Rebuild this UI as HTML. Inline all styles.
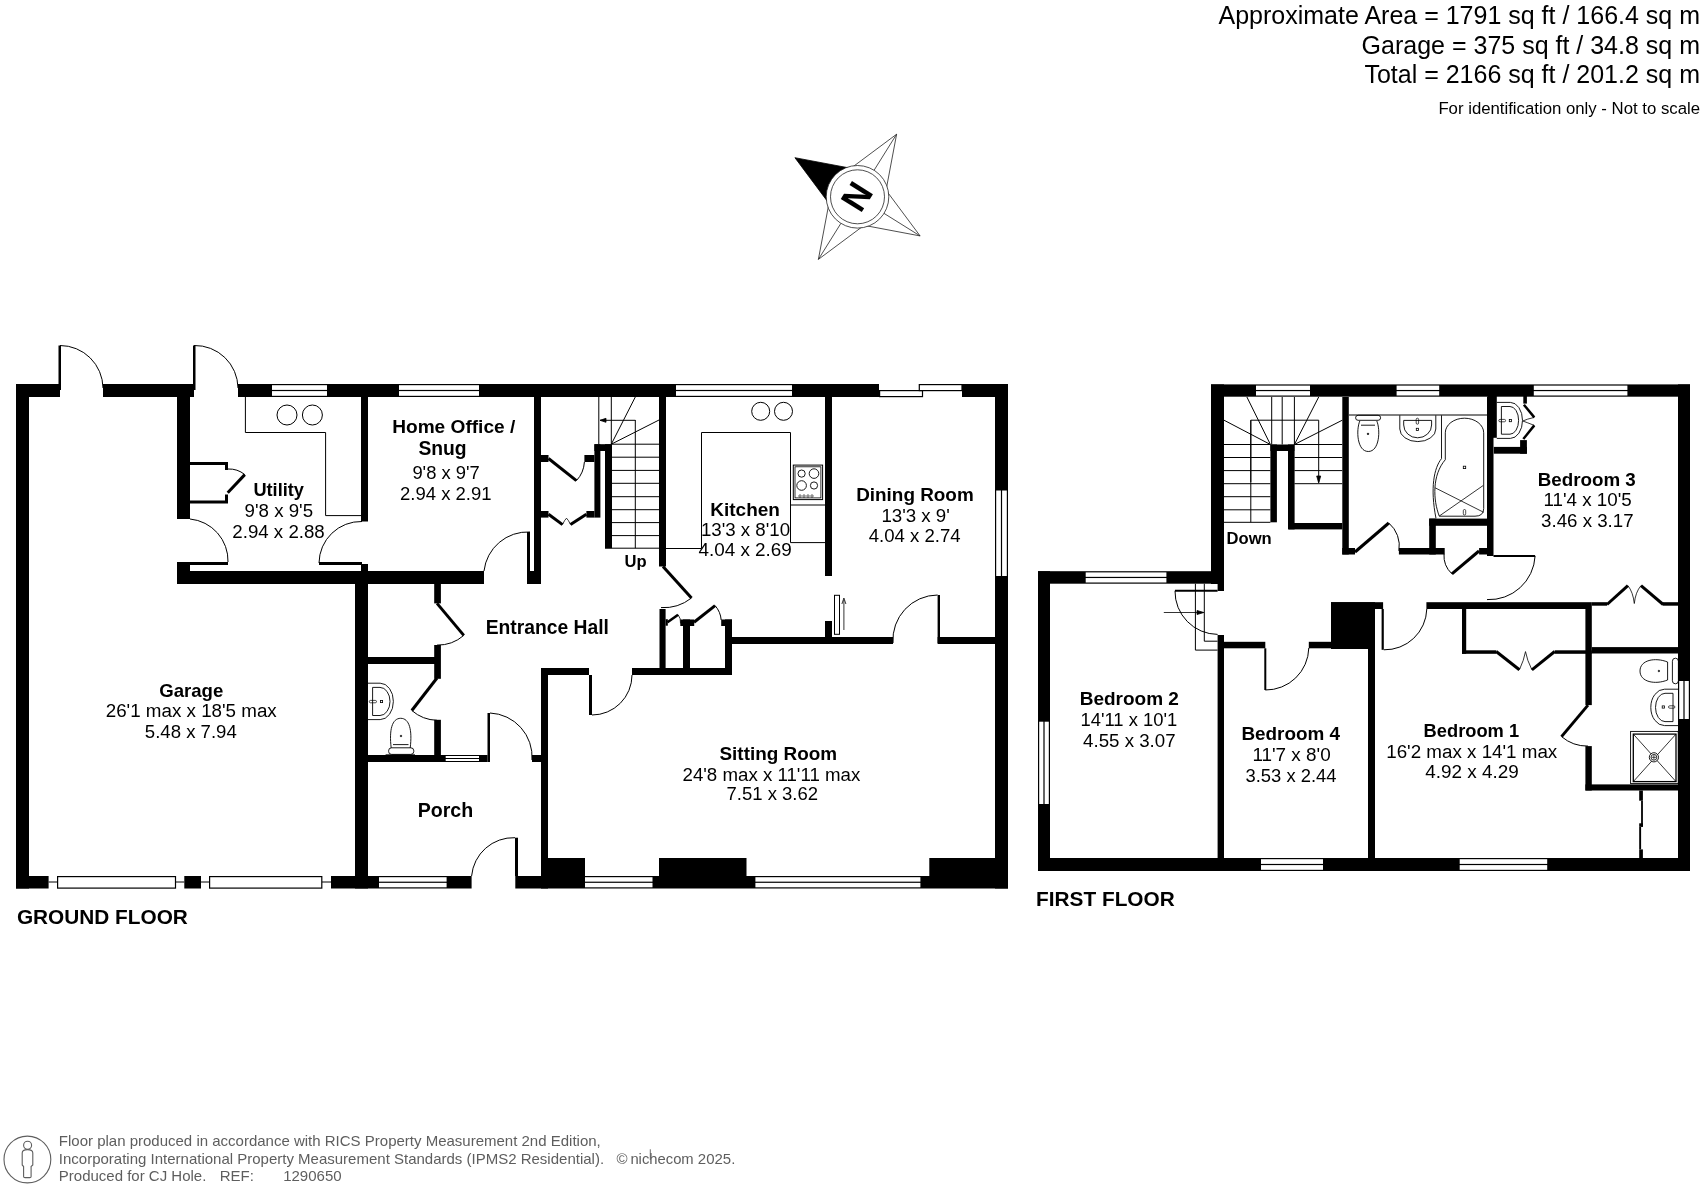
<!DOCTYPE html>
<html><head><meta charset="utf-8"><style>
html,body{margin:0;padding:0;background:#fff;overflow:hidden;}
svg{display:block;filter:grayscale(1);}
text{font-family:"Liberation Sans",sans-serif;}
</style></head><body>
<svg width="1704" height="1186" viewBox="0 0 1704 1186">
<rect x="16" y="384" width="44" height="13" fill="#000"/>
<rect x="103" y="384" width="91" height="13" fill="#000"/>
<rect x="238" y="384" width="641" height="13" fill="#000"/>
<rect x="962" y="384" width="46" height="13" fill="#000"/>
<rect x="272" y="385.2" width="55" height="4.7" fill="#fff"/>
<rect x="272" y="391.1" width="55" height="4.7" fill="#fff"/>
<rect x="399" y="385.2" width="80" height="4.7" fill="#fff"/>
<rect x="399" y="391.1" width="80" height="4.7" fill="#fff"/>
<rect x="676" y="385.2" width="116" height="4.7" fill="#fff"/>
<rect x="676" y="391.1" width="116" height="4.7" fill="#fff"/>
<rect x="879.6" y="390.6" width="42.9" height="6" fill="#fff" stroke="#000" stroke-width="1.2"/>
<rect x="919.3" y="384.6" width="42.7" height="6" fill="#fff" stroke="#000" stroke-width="1.2"/>
<rect x="16" y="384" width="13" height="504.5" fill="#000"/>
<rect x="995" y="384" width="13" height="504.5" fill="#000"/>
<rect x="996.2" y="490.5" width="4.7" height="85.5" fill="#fff"/>
<rect x="1002.1" y="490.5" width="4.7" height="85.5" fill="#fff"/>
<rect x="16" y="876" width="32.6" height="12.5" fill="#000"/>
<line x1="48.6" y1="882" x2="57" y2="882" stroke="#000" stroke-width="1"/>
<line x1="175.5" y1="882" x2="184.3" y2="882" stroke="#000" stroke-width="1"/>
<line x1="201" y1="882" x2="209.5" y2="882" stroke="#000" stroke-width="1"/>
<line x1="321.8" y1="882" x2="331" y2="882" stroke="#000" stroke-width="1"/>
<rect x="57.6" y="876.6" width="117.9" height="11.5" fill="#fff" stroke="#000" stroke-width="1.2"/>
<rect x="209.6" y="876.6" width="112.2" height="11.5" fill="#fff" stroke="#000" stroke-width="1.2"/>
<rect x="184.3" y="876" width="16.7" height="12.5" fill="#000"/>
<rect x="331" y="876" width="140.6" height="12.5" fill="#000"/>
<rect x="379" y="877.2" width="67.6" height="4.45" fill="#fff"/>
<rect x="379" y="882.85" width="67.6" height="4.45" fill="#fff"/>
<rect x="515.3" y="876" width="492.7" height="12.5" fill="#000"/>
<rect x="585" y="877.2" width="67.5" height="4.45" fill="#fff"/>
<rect x="585" y="882.85" width="67.5" height="4.45" fill="#fff"/>
<rect x="755.4" y="877.2" width="165" height="4.45" fill="#fff"/>
<rect x="755.4" y="882.85" width="165" height="4.45" fill="#fff"/>
<rect x="541" y="858" width="44" height="18" fill="#000"/>
<rect x="659" y="858" width="87.5" height="18" fill="#000"/>
<rect x="929.3" y="858" width="66.2" height="18" fill="#000"/>
<rect x="177" y="397" width="13" height="122" fill="#000"/>
<rect x="177" y="562" width="13" height="22" fill="#000"/>
<rect x="177" y="571" width="307" height="13" fill="#000"/>
<rect x="355" y="584" width="13" height="304.5" fill="#000"/>
<rect x="361" y="397" width="7" height="124.5" fill="#000"/>
<rect x="361" y="564" width="7" height="7" fill="#000"/>
<rect x="534" y="397" width="7" height="187" fill="#000"/>
<rect x="527" y="571" width="14" height="13" fill="#000"/>
<rect x="594.4" y="444.2" width="6" height="73.4" fill="#000"/>
<rect x="594.4" y="444.2" width="16.9" height="6.8" fill="#000"/>
<rect x="605" y="444.2" width="7" height="104" fill="#000"/>
<rect x="541" y="455" width="7.5" height="7" fill="#000"/>
<rect x="584.4" y="455" width="10" height="7" fill="#000"/>
<rect x="541" y="511" width="7.5" height="6.6" fill="#000"/>
<rect x="586.4" y="511" width="8" height="6.6" fill="#000"/>
<rect x="659" y="397" width="7" height="169.5" fill="#000"/>
<rect x="825" y="397" width="7" height="179" fill="#000"/>
<rect x="825" y="621" width="7" height="23" fill="#000"/>
<rect x="732" y="637" width="161" height="7" fill="#000"/>
<rect x="937.6" y="637" width="58.4" height="7" fill="#000"/>
<rect x="659.5" y="609" width="6.1" height="65.3" fill="#000"/>
<rect x="683" y="619.5" width="7" height="54.8" fill="#000"/>
<rect x="680.3" y="619.5" width="13.9" height="6.5" fill="#000"/>
<rect x="725" y="619.5" width="7" height="54.8" fill="#000"/>
<rect x="721.2" y="619.5" width="10.8" height="6.5" fill="#000"/>
<rect x="541" y="668" width="48" height="7" fill="#000"/>
<rect x="632" y="668" width="100" height="7" fill="#000"/>
<rect x="434.2" y="584" width="6.7" height="19.4" fill="#000"/>
<rect x="434.2" y="645" width="6.7" height="33.8" fill="#000"/>
<rect x="434.2" y="719.8" width="6.7" height="35.4" fill="#000"/>
<rect x="368" y="657" width="69" height="7" fill="#000"/>
<rect x="368" y="755" width="119.5" height="7" fill="#000"/>
<rect x="445.7" y="756" width="33.3" height="2" fill="#fff"/>
<rect x="445.7" y="759" width="33.3" height="2" fill="#fff"/>
<rect x="532" y="755" width="9" height="7" fill="#000"/>
<rect x="541" y="668" width="7" height="220.5" fill="#000"/>
<line x1="611" y1="444.2" x2="659" y2="444.2" stroke="#000" stroke-width="1"/>
<line x1="611" y1="457.2" x2="659" y2="457.2" stroke="#000" stroke-width="1"/>
<line x1="611" y1="470.4" x2="659" y2="470.4" stroke="#000" stroke-width="1"/>
<line x1="611" y1="483.3" x2="659" y2="483.3" stroke="#000" stroke-width="1"/>
<line x1="611" y1="496.7" x2="659" y2="496.7" stroke="#000" stroke-width="1"/>
<line x1="611" y1="509.7" x2="659" y2="509.7" stroke="#000" stroke-width="1"/>
<line x1="611" y1="522.6" x2="659" y2="522.6" stroke="#000" stroke-width="1"/>
<line x1="611" y1="535.6" x2="659" y2="535.6" stroke="#000" stroke-width="1"/>
<line x1="605" y1="548.2" x2="659" y2="548.2" stroke="#000" stroke-width="1"/>
<line x1="635.3" y1="420" x2="635.3" y2="548.2" stroke="#000" stroke-width="1"/>
<line x1="598.8" y1="397" x2="598.8" y2="444.2" stroke="#000" stroke-width="1"/>
<line x1="611.3" y1="397" x2="611.3" y2="444.2" stroke="#000" stroke-width="1"/>
<line x1="600" y1="420.3" x2="635.3" y2="420.3" stroke="#000" stroke-width="1"/>
<path d="M600 420.3 L606 418.3 L606 422.3 Z" fill="#000" stroke="#000" stroke-width="0.8" />
<line x1="611.3" y1="444.2" x2="635.3" y2="397" stroke="#000" stroke-width="1"/>
<line x1="611.3" y1="444.2" x2="659" y2="420" stroke="#000" stroke-width="1"/>
<rect x="58.5" y="345.5" width="2.5" height="44.5" fill="#000"/>
<path d="M60 345.5 A43 43 0 0 1 103 388" fill="none" stroke="#000" stroke-width="1" />
<rect x="193" y="345.5" width="2.5" height="44.5" fill="#000"/>
<path d="M194 345.5 A43 43 0 0 1 238 388" fill="none" stroke="#000" stroke-width="1" />
<rect x="183" y="562" width="45" height="3" fill="#000"/>
<path d="M228 562 A42 42 0 0 0 190 519" fill="none" stroke="#000" stroke-width="1" />
<rect x="319" y="562" width="43" height="3" fill="#000"/>
<path d="M319 563 A42 42 0 0 1 362 521.5" fill="none" stroke="#000" stroke-width="1" />
<rect x="527" y="532" width="3" height="39" fill="#000"/>
<path d="M530 532 A44 44 0 0 0 484 571" fill="none" stroke="#000" stroke-width="1" />
<rect x="589" y="675" width="3" height="40" fill="#000"/>
<path d="M592 715 A40 40 0 0 0 632 675" fill="none" stroke="#000" stroke-width="1" />
<rect x="937.6" y="595" width="2.4" height="48" fill="#000"/>
<path d="M937.6 595 A45 45 0 0 0 893 643" fill="none" stroke="#000" stroke-width="1" />
<rect x="515" y="837.7" width="3" height="38.3" fill="#000"/>
<path d="M515 837.7 A42 42 0 0 0 471.6 876" fill="none" stroke="#000" stroke-width="1" />
<rect x="487.5" y="713" width="2.5" height="49" fill="#000"/>
<path d="M490 713 A44 44 0 0 1 532 760" fill="none" stroke="#000" stroke-width="1" />
<line x1="663" y1="566.5" x2="691.5" y2="598" stroke="#000" stroke-width="3"/>
<path d="M691.5 598 A45 45 0 0 1 661 607.6" fill="none" stroke="#000" stroke-width="1" />
<line x1="548.5" y1="458.5" x2="576.4" y2="480.7" stroke="#000" stroke-width="3"/>
<path d="M576.4 480.7 A30 30 0 0 0 584.4 462" fill="none" stroke="#000" stroke-width="1" />
<line x1="548.5" y1="514.3" x2="562.5" y2="524.6" stroke="#000" stroke-width="3"/>
<line x1="570.5" y1="524.6" x2="586.4" y2="514.3" stroke="#000" stroke-width="3"/>
<path d="M562.5 524.6 Q564.5 520 566.5 518.2 Q568.5 520 570.5 524.6" fill="none" stroke="#000" stroke-width="0.8" />
<line x1="437" y1="603.4" x2="463.8" y2="635.4" stroke="#000" stroke-width="3"/>
<path d="M463.8 635.4 A40 40 0 0 1 437 645.1" fill="none" stroke="#000" stroke-width="1" />
<line x1="437" y1="678" x2="411.8" y2="710.5" stroke="#000" stroke-width="3"/>
<path d="M411.8 710.5 A40 40 0 0 0 437 720.3" fill="none" stroke="#000" stroke-width="1" />
<rect x="665.6" y="619.2" width="2.2" height="6.5" fill="#000"/>
<line x1="667.5" y1="622.3" x2="678.1" y2="614.7" stroke="#000" stroke-width="2.6"/>
<path d="M678.1 614.7 A12 12 0 0 1 680.5 623.4" fill="none" stroke="#000" stroke-width="0.8" />
<line x1="694" y1="622.3" x2="715.1" y2="605.6" stroke="#000" stroke-width="3"/>
<path d="M715.1 605.6 A25 25 0 0 1 721.2 620" fill="none" stroke="#000" stroke-width="1" />
<rect x="834.5" y="595.3" width="5" height="39" fill="#fff" stroke="#000" stroke-width="1"/>
<line x1="843.9" y1="600" x2="843.9" y2="630" stroke="#000" stroke-width="0.8"/>
<path d="M841.9 604 L843.9 598 L845.9 604" fill="none" stroke="#000" stroke-width="0.8" />
<path d="M245.4 397 V432.5 H325.6 V515.6 H361" fill="none" stroke="#000" stroke-width="1" />
<circle cx="287" cy="415" r="10" fill="none" stroke="#000" stroke-width="1"/>
<circle cx="312.4" cy="415" r="10" fill="none" stroke="#000" stroke-width="1"/>
<path d="M190 463.5 H226.5 V470" fill="none" stroke="#000" stroke-width="3" />
<path d="M190 502 H226.5 V494.5" fill="none" stroke="#000" stroke-width="3" />
<line x1="227.7" y1="492.8" x2="244.8" y2="474.6" stroke="#000" stroke-width="3"/>
<path d="M244.8 474.6 A25 25 0 0 0 228 469" fill="none" stroke="#000" stroke-width="1" />
<circle cx="760.7" cy="411.3" r="9" fill="none" stroke="#000" stroke-width="1"/>
<circle cx="783.5" cy="411.3" r="9" fill="none" stroke="#000" stroke-width="1"/>
<path d="M665.6 548.5 H701.5 V432.5 H790.5 V542.6 H825" fill="none" stroke="#000" stroke-width="1" />
<line x1="790.5" y1="505" x2="825" y2="505" stroke="#000" stroke-width="1"/>
<rect x="793.3" y="465.1" width="29.3" height="34.5" fill="none" stroke="#000" stroke-width="1"/>
<rect x="795" y="466.8" width="25.9" height="31.1" fill="none" stroke="#000" stroke-width="0.8"/>
<circle cx="801.6" cy="473.6" r="3.6" fill="none" stroke="#000" stroke-width="0.9"/>
<circle cx="814" cy="473.6" r="4.8" fill="none" stroke="#000" stroke-width="0.9"/>
<circle cx="801.6" cy="485.5" r="4.8" fill="none" stroke="#000" stroke-width="0.9"/>
<circle cx="814" cy="485.5" r="3.6" fill="none" stroke="#000" stroke-width="0.9"/>
<circle cx="800" cy="496" r="1.2" fill="none" stroke="#000" stroke-width="0.6"/>
<circle cx="804" cy="496" r="1.2" fill="none" stroke="#000" stroke-width="0.6"/>
<circle cx="808" cy="496" r="1.2" fill="none" stroke="#000" stroke-width="0.6"/>
<circle cx="812" cy="496" r="1.2" fill="none" stroke="#000" stroke-width="0.6"/>
<rect x="1211" y="384.4" width="479" height="12.3" fill="#000"/>
<rect x="1256" y="385.6" width="54" height="4.35" fill="#fff"/>
<rect x="1256" y="391.15" width="54" height="4.35" fill="#fff"/>
<rect x="1396.6" y="385.6" width="42.6" height="4.35" fill="#fff"/>
<rect x="1396.6" y="391.15" width="42.6" height="4.35" fill="#fff"/>
<rect x="1533.8" y="385.6" width="93.6" height="4.35" fill="#fff"/>
<rect x="1533.8" y="391.15" width="93.6" height="4.35" fill="#fff"/>
<rect x="1211" y="384.4" width="13" height="199.6" fill="#000"/>
<rect x="1217.6" y="584" width="6.4" height="7" fill="#000"/>
<rect x="1038" y="571.2" width="186" height="12.5" fill="#000"/>
<rect x="1085.7" y="572.4" width="80.7" height="4.45" fill="#fff"/>
<rect x="1085.7" y="578.05" width="80.7" height="4.45" fill="#fff"/>
<rect x="1038" y="571.2" width="12" height="299.8" fill="#000"/>
<rect x="1039.2" y="721.7" width="4.2" height="82.3" fill="#fff"/>
<rect x="1044.6" y="721.7" width="4.2" height="82.3" fill="#fff"/>
<rect x="1038" y="858" width="652" height="13" fill="#000"/>
<rect x="1261" y="859.2" width="62" height="4.7" fill="#fff"/>
<rect x="1261" y="865.1" width="62" height="4.7" fill="#fff"/>
<rect x="1459.7" y="859.2" width="87.5" height="4.7" fill="#fff"/>
<rect x="1459.7" y="865.1" width="87.5" height="4.7" fill="#fff"/>
<rect x="1678" y="384.4" width="12" height="486.6" fill="#000"/>
<rect x="1679.2" y="681" width="4.2" height="38" fill="#fff"/>
<rect x="1684.6" y="681" width="4.2" height="38" fill="#fff"/>
<rect x="1217.6" y="635" width="6.4" height="223" fill="#000"/>
<rect x="1224" y="641.8" width="41.3" height="6.5" fill="#000"/>
<rect x="1308.8" y="641.8" width="22.2" height="6.5" fill="#000"/>
<rect x="1331" y="602.2" width="44" height="46.8" fill="#000"/>
<rect x="1331" y="602.2" width="52.1" height="6.8" fill="#000"/>
<rect x="1368" y="649" width="7" height="209" fill="#000"/>
<rect x="1342.3" y="397" width="6.5" height="157.5" fill="#000"/>
<rect x="1342.2" y="548" width="12.8" height="6.5" fill="#000"/>
<rect x="1288.7" y="523" width="53.6" height="6.4" fill="#000"/>
<rect x="1398.9" y="548" width="45.8" height="6.5" fill="#000"/>
<rect x="1429.2" y="518.6" width="6.6" height="35.9" fill="#000"/>
<rect x="1429.2" y="518.6" width="57.8" height="7.2" fill="#000"/>
<rect x="1479.1" y="548" width="7.9" height="6.5" fill="#000"/>
<rect x="1487" y="397" width="6.5" height="159" fill="#000"/>
<rect x="1426.4" y="602.2" width="165.4" height="6.8" fill="#000"/>
<rect x="1591.8" y="602.2" width="15.2" height="3.5" fill="#000"/>
<rect x="1663" y="602.2" width="15" height="3.5" fill="#000"/>
<rect x="1462" y="609" width="4.2" height="44.8" fill="#000"/>
<rect x="1462" y="650.3" width="34.3" height="3.5" fill="#000"/>
<rect x="1554.7" y="650.3" width="37.1" height="3.5" fill="#000"/>
<rect x="1585.4" y="609" width="6.4" height="96.1" fill="#000"/>
<rect x="1585.4" y="746.1" width="6.4" height="44.4" fill="#000"/>
<rect x="1591.8" y="647.1" width="86.2" height="6.4" fill="#000"/>
<rect x="1585.4" y="784.4" width="92.6" height="6.1" fill="#000"/>
<rect x="1639.2" y="790.5" width="3.7" height="10.2" fill="#000"/>
<rect x="1641.1" y="800.7" width="1.8" height="26.1" fill="#000"/>
<rect x="1639.2" y="823.3" width="3.7" height="3.5" fill="#000"/>
<rect x="1639.2" y="826.8" width="1.9" height="22.6" fill="#000"/>
<rect x="1639.2" y="849.4" width="3.7" height="8.6" fill="#000"/>
<rect x="1270.4" y="444.5" width="6.5" height="77.8" fill="#000"/>
<rect x="1270.4" y="444.5" width="24" height="6.5" fill="#000"/>
<rect x="1288" y="444.5" width="6.6" height="84.9" fill="#000"/>
<line x1="1224" y1="444.5" x2="1270.4" y2="444.5" stroke="#000" stroke-width="1"/>
<line x1="1224" y1="457.5" x2="1270.4" y2="457.5" stroke="#000" stroke-width="1"/>
<line x1="1224" y1="470.6" x2="1270.4" y2="470.6" stroke="#000" stroke-width="1"/>
<line x1="1224" y1="483.7" x2="1270.4" y2="483.7" stroke="#000" stroke-width="1"/>
<line x1="1224" y1="496.7" x2="1270.4" y2="496.7" stroke="#000" stroke-width="1"/>
<line x1="1224" y1="509.8" x2="1270.4" y2="509.8" stroke="#000" stroke-width="1"/>
<line x1="1224" y1="522.3" x2="1270.4" y2="522.3" stroke="#000" stroke-width="1"/>
<line x1="1250.8" y1="420.2" x2="1250.8" y2="522.3" stroke="#000" stroke-width="1"/>
<line x1="1294.4" y1="444.5" x2="1342.3" y2="444.5" stroke="#000" stroke-width="1"/>
<line x1="1294.4" y1="457.5" x2="1342.3" y2="457.5" stroke="#000" stroke-width="1"/>
<line x1="1294.4" y1="470.6" x2="1342.3" y2="470.6" stroke="#000" stroke-width="1"/>
<line x1="1294.4" y1="483.7" x2="1342.3" y2="483.7" stroke="#000" stroke-width="1"/>
<path d="M1250.8 482 V420.2 H1318.7 V482" fill="none" stroke="#000" stroke-width="1" />
<path d="M1316.7 476 L1318.7 483 L1320.7 476 Z" fill="#000" stroke="#000" stroke-width="0.8" />
<line x1="1270.4" y1="444.5" x2="1224" y2="420.2" stroke="#000" stroke-width="1"/>
<line x1="1270.4" y1="444.5" x2="1246.9" y2="397" stroke="#000" stroke-width="1"/>
<line x1="1271.7" y1="397" x2="1271.7" y2="444.5" stroke="#000" stroke-width="1"/>
<line x1="1282.2" y1="397" x2="1282.2" y2="444.5" stroke="#000" stroke-width="1"/>
<line x1="1294.4" y1="397" x2="1294.4" y2="444.5" stroke="#000" stroke-width="1"/>
<line x1="1294.4" y1="444.5" x2="1318.7" y2="397" stroke="#000" stroke-width="1"/>
<line x1="1294.4" y1="444.5" x2="1342.3" y2="420.2" stroke="#000" stroke-width="1"/>
<line x1="1349" y1="415" x2="1487" y2="415" stroke="#000" stroke-width="1"/>
<line x1="1355" y1="552" x2="1388.8" y2="523" stroke="#000" stroke-width="3"/>
<path d="M1388.8 523 A30 30 0 0 1 1398.9 550.9" fill="none" stroke="#000" stroke-width="1" />
<line x1="1479" y1="551" x2="1451.9" y2="573.8" stroke="#000" stroke-width="3"/>
<path d="M1451.9 573.8 A25 25 0 0 1 1444 553.8" fill="none" stroke="#000" stroke-width="1" />
<rect x="1493.5" y="555" width="41.6" height="2" fill="#000"/>
<path d="M1535.1 556 A46 46 0 0 1 1487 599.6" fill="none" stroke="#000" stroke-width="1" />
<rect x="1381.6" y="609" width="2.2" height="40.8" fill="#000"/>
<path d="M1383.8 649.8 A42 42 0 0 0 1426.8 609" fill="none" stroke="#000" stroke-width="1" />
<rect x="1264.3" y="648.3" width="2" height="41.7" fill="#000"/>
<path d="M1265.3 690 A43 43 0 0 0 1308.8 648" fill="none" stroke="#000" stroke-width="1" />
<line x1="1588" y1="705.1" x2="1561.5" y2="736.6" stroke="#000" stroke-width="3"/>
<path d="M1561.5 736.6 A40 40 0 0 0 1588 746.1" fill="none" stroke="#000" stroke-width="1" />
<line x1="1496.2" y1="651.5" x2="1519.4" y2="669.8" stroke="#000" stroke-width="3"/>
<line x1="1531.9" y1="669.8" x2="1554.7" y2="651.5" stroke="#000" stroke-width="3"/>
<path d="M1519.4 669.8 Q1524 660 1525.5 651.6 Q1527 660 1531.9 669.8" fill="none" stroke="#000" stroke-width="0.8" />
<line x1="1607" y1="604.5" x2="1627.9" y2="585.6" stroke="#000" stroke-width="3"/>
<line x1="1641" y1="585.6" x2="1663.2" y2="604.5" stroke="#000" stroke-width="3"/>
<path d="M1627.9 585.6 Q1633 592 1634.3 603.5 Q1635.5 592 1641 585.6" fill="none" stroke="#000" stroke-width="0.8" />
<path d="M1175 590.8 A43 43 0 0 0 1217.6 634.4" fill="none" stroke="#000" stroke-width="1" />
<line x1="1175" y1="590.8" x2="1217.6" y2="590.8" stroke="#000" stroke-width="2"/>
<path d="M1195.4 583.7 V650.1 H1217.6" fill="none" stroke="#000" stroke-width="1" />
<path d="M1204.3 583.7 V641.2 H1217.6" fill="none" stroke="#000" stroke-width="1" />
<line x1="1163.8" y1="612.5" x2="1203.8" y2="612.5" stroke="#000" stroke-width="0.8"/>
<path d="M1197 610.5 L1203.8 612.5 L1197 614.5 Z" fill="#000" stroke="#000" stroke-width="0.8" />
<path d="M368 683.2 H380.2 A13.2 18.2 0 0 1 380.2 719.6 H368" fill="none" stroke="#000" stroke-width="0.9" />
<path d="M372.6 687.4 H380 A10 14.05 0 0 1 380 715.5 H372.6 Z" fill="none" stroke="#000" stroke-width="0.9" />
<rect x="369.3" y="700.4" width="7.2" height="2.4" rx="1.2" fill="none" stroke="#000" stroke-width="0.7"/>
<rect x="380.4" y="700.4" width="2.2" height="2.2" fill="none" stroke="#000" stroke-width="0.8"/>
<path d="M391.2 748 C389 730 392 718.3 400.7 718.3 C409.4 718.3 412.4 730 410.2 748" fill="none" stroke="#000" stroke-width="0.9" />
<line x1="393" y1="744.6" x2="408.5" y2="744.6" stroke="#000" stroke-width="0.9"/>
<circle cx="401" cy="736" r="0.8" fill="#000" stroke="#000" stroke-width="0.6"/>
<rect x="388.6" y="747.8" width="25.2" height="6.6" rx="3" fill="none" stroke="#000" stroke-width="0.9"/>
<line x1="385.6" y1="754.8" x2="415" y2="754.8" stroke="#000" stroke-width="0.9"/>
<rect x="1355.6" y="415.3" width="25" height="5" rx="2.5" fill="none" stroke="#000" stroke-width="0.9"/>
<path d="M1359.8 421 C1356 430 1357 451.5 1368.3 451.5 C1379.5 451.5 1380.6 430 1376.8 421" fill="none" stroke="#000" stroke-width="0.9" />
<line x1="1361" y1="425.2" x2="1375" y2="425.2" stroke="#000" stroke-width="0.9"/>
<circle cx="1368" cy="433.9" r="0.8" fill="#000" stroke="#000" stroke-width="0.6"/>
<path d="M1399.8 415.3 V429 A18 12.6 0 0 0 1435.8 429 V415.3" fill="none" stroke="#000" stroke-width="0.9" />
<path d="M1403.7 420.4 H1431.6 V425 A13.95 12.8 0 0 1 1403.7 425 Z" fill="none" stroke="#000" stroke-width="0.9" />
<rect x="1416.2" y="418.2" width="2.4" height="6" rx="1.2" fill="none" stroke="#000" stroke-width="0.7"/>
<rect x="1416.3" y="428.3" width="2.2" height="2.2" fill="none" stroke="#000" stroke-width="0.8"/>
<path d="M1441.5 415.3 V458.6 C1434 468 1430 488 1436 518.4" fill="none" stroke="#000" stroke-width="0.9" />
<path d="M1445.3 432.8 A19.2 14.6 0 0 1 1483.7 432.8 V508.5 Q1483.7 516.2 1475 516.2 H1439.3 C1433 500 1432 475 1445.3 459.7 Z" fill="none" stroke="#000" stroke-width="0.9" />
<line x1="1434.9" y1="487.7" x2="1483.7" y2="512.3" stroke="#000" stroke-width="0.8"/>
<line x1="1439.3" y1="516" x2="1483.2" y2="485.5" stroke="#000" stroke-width="0.8"/>
<rect x="1463.3" y="466.2" width="2.4" height="2.4" fill="none" stroke="#000" stroke-width="0.8"/>
<rect x="1463.3" y="509.5" width="2.4" height="5.5" rx="1.2" fill="none" stroke="#000" stroke-width="0.7"/>
<rect x="1487.4" y="396" width="9.4" height="41.8" fill="#000"/>
<rect x="1493.8" y="446.9" width="33.1" height="6.8" fill="#000"/>
<rect x="1520.1" y="440.1" width="6.8" height="13.6" fill="#000"/>
<rect x="1523.3" y="396" width="3.6" height="7.6" fill="#000"/>
<line x1="1523.9" y1="404.7" x2="1534.3" y2="417.4" stroke="#000" stroke-width="2.5"/>
<line x1="1534.3" y1="425.4" x2="1523.3" y2="439" stroke="#000" stroke-width="2.5"/>
<path d="M1534.3 417.4 Q1527 419 1522.8 421 Q1527 422.5 1534.3 425.4" fill="none" stroke="#000" stroke-width="0.8" />
<path d="M1496.8 402.4 H1510.4 A12.1 18 0 0 1 1510.4 438.4 H1496.8" fill="none" stroke="#000" stroke-width="0.9" />
<path d="M1501.4 406.5 H1510 A8.6 13.85 0 0 1 1510 434.2 H1501.4 Z" fill="none" stroke="#000" stroke-width="0.9" />
<rect x="1498.8" y="419.4" width="6.8" height="2.4" rx="1.2" fill="none" stroke="#000" stroke-width="0.7"/>
<rect x="1509.3" y="419.5" width="2.2" height="2.2" fill="none" stroke="#000" stroke-width="0.8"/>
<rect x="1672.4" y="658.2" width="6" height="25.6" rx="3" fill="none" stroke="#000" stroke-width="0.9"/>
<path d="M1667.6 662 C1655 657 1640 660 1640 671 C1640 682 1655 685 1667.6 680 Z" fill="none" stroke="#000" stroke-width="0.9" />
<circle cx="1658.9" cy="671" r="0.8" fill="#000" stroke="#000" stroke-width="0.6"/>
<path d="M1678.2 689.2 H1664.5 A13.7 18.2 0 0 0 1664.5 725.6 H1678.2" fill="none" stroke="#000" stroke-width="0.9" />
<path d="M1673 693.3 H1665 A9.5 14.15 0 0 0 1665 721.6 H1673 Z" fill="none" stroke="#000" stroke-width="0.9" />
<rect x="1662.2" y="705.9" width="2.2" height="2.2" fill="none" stroke="#000" stroke-width="0.8"/>
<rect x="1668.5" y="705.8" width="6.4" height="2.4" rx="1.2" fill="none" stroke="#000" stroke-width="0.7"/>
<rect x="1630.6" y="731.4" width="47.6" height="52.2" fill="none" stroke="#000" stroke-width="0.9"/>
<rect x="1633.3" y="734.1" width="42.7" height="47.5" fill="none" stroke="#000" stroke-width="1.3"/>
<line x1="1633.3" y1="734.1" x2="1676" y2="781.6" stroke="#000" stroke-width="0.8"/>
<line x1="1676" y1="734.1" x2="1633.3" y2="781.6" stroke="#000" stroke-width="0.8"/>
<circle cx="1653.9" cy="757.3" r="4.6" fill="#fff" stroke="#000" stroke-width="0.9"/>
<circle cx="1653.9" cy="757.3" r="2.9" fill="none" stroke="#000" stroke-width="0.8"/>
<line x1="1651.5" y1="757.3" x2="1656.3" y2="757.3" stroke="#000" stroke-width="0.7"/>
<line x1="1653.9" y1="755" x2="1653.9" y2="759.6" stroke="#000" stroke-width="0.7"/>
<line x1="650.3" y1="1149.3" x2="650.3" y2="1160" stroke="#5e5e5e" stroke-width="0.9"/>
<circle cx="27.4" cy="1159.5" r="23.4" fill="none" stroke="#5e5e5e" stroke-width="1.1"/>
<circle cx="27.6" cy="1145.3" r="4" fill="none" stroke="#5e5e5e" stroke-width="1.1"/>
<path d="M27.5 1149.6 C24 1149.6 22.2 1151 22.2 1153 V1165 L23.6 1166.5 V1176.5 Q23.6 1177.6 25 1177.6 H29.8 Q31.1 1177.6 31.1 1176.5 V1166.5 L32.8 1165 V1153 C32.8 1151 31 1149.6 27.5 1149.6 Z" fill="none" stroke="#5e5e5e" stroke-width="1.1"/>
<path d="M850.91 168.25 L896.61 134.21 L886.05 190.21" fill="none" stroke="#222" stroke-width="0.8"/>
<line x1="896.61" y1="134.21" x2="874.09" y2="170.26" stroke="#222" stroke-width="0.8"/>
<path d="M886.05 190.21 L920.09 235.91 L864.09 225.35" fill="none" stroke="#222" stroke-width="0.8"/>
<line x1="920.09" y1="235.91" x2="884.04" y2="213.39" stroke="#222" stroke-width="0.8"/>
<path d="M864.09 225.35 L818.39 259.39 L828.95 203.39" fill="none" stroke="#222" stroke-width="0.8"/>
<line x1="818.39" y1="259.39" x2="840.91" y2="223.34" stroke="#222" stroke-width="0.8"/>
<path d="M828.95 203.39 L794.91 157.69 L850.91 168.25 L857.5 196.8 Z" fill="#000" stroke="#000" stroke-width="0.8"/>
<circle cx="857.5" cy="196.8" r="31.3" fill="#fff" stroke="#222" stroke-width="0.8"/>
<circle cx="857.5" cy="196.8" r="27" fill="none" stroke="#222" stroke-width="0.8"/>
<text x="0" y="12.9" font-size="36" font-weight="bold" text-anchor="middle" fill="#000" transform="translate(857.3 196.8) rotate(122)" style="font-family:Liberation Sans,sans-serif">N</text>
<text x="1700" y="23.7" font-size="25" text-anchor="end" fill="#000">Approximate Area = 1791 sq ft / 166.4 sq m</text>
<text x="1700" y="53.8" font-size="25" text-anchor="end" fill="#000">Garage = 375 sq ft / 34.8 sq m</text>
<text x="1700" y="83.4" font-size="25" text-anchor="end" fill="#000">Total = 2166 sq ft / 201.2 sq m</text>
<text x="1700" y="113.9" font-size="16.75" text-anchor="end" fill="#000">For identification only - Not to scale</text>
<text x="253.4" y="495.8" font-size="18.2" text-anchor="start" font-weight="bold" fill="#000">Utility</text>
<text x="244.6" y="517.2" font-size="18.7" text-anchor="start" fill="#000">9&#39;8 x 9&#39;5</text>
<text x="232.3" y="537.8" font-size="18.7" text-anchor="start" fill="#000">2.94 x 2.88</text>
<text x="392.2" y="433.4" font-size="19.1" text-anchor="start" font-weight="bold" fill="#000">Home Office /</text>
<text x="418.4" y="455.2" font-size="19.3" text-anchor="start" font-weight="bold" fill="#000">Snug</text>
<text x="412.4" y="479.3" font-size="18.4" text-anchor="start" fill="#000">9&#39;8 x 9&#39;7</text>
<text x="400" y="499.7" font-size="18.5" text-anchor="start" fill="#000">2.94 x 2.91</text>
<text x="710.3" y="515.5" font-size="19" text-anchor="start" font-weight="bold" fill="#000">Kitchen</text>
<text x="700.9" y="535.5" font-size="18.7" text-anchor="start" fill="#000">13&#39;3 x 8&#39;10</text>
<text x="698.4" y="555.7" font-size="18.9" text-anchor="start" fill="#000">4.04 x 2.69</text>
<text x="856.2" y="501" font-size="18.9" text-anchor="start" font-weight="bold" fill="#000">Dining Room</text>
<text x="881.4" y="521.8" font-size="18.7" text-anchor="start" fill="#000">13&#39;3 x 9&#39;</text>
<text x="868.7" y="541.8" font-size="18.6" text-anchor="start" fill="#000">4.04 x 2.74</text>
<text x="159.2" y="696.9" font-size="18.6" text-anchor="start" font-weight="bold" fill="#000">Garage</text>
<text x="105.7" y="716.8" font-size="18.8" text-anchor="start" fill="#000">26&#39;1 max x 18&#39;5 max</text>
<text x="144.8" y="738" font-size="18.6" text-anchor="start" fill="#000">5.48 x 7.94</text>
<text x="485.7" y="634.3" font-size="19.3" text-anchor="start" font-weight="bold" fill="#000">Entrance Hall</text>
<text x="417.7" y="817.3" font-size="19.6" text-anchor="start" font-weight="bold" fill="#000">Porch</text>
<text x="719.5" y="760" font-size="18.9" text-anchor="start" font-weight="bold" fill="#000">Sitting Room</text>
<text x="682.5" y="780.8" font-size="18.7" text-anchor="start" fill="#000">24&#39;8 max x 11&#39;11 max</text>
<text x="726.5" y="800.1" font-size="18.5" text-anchor="start" fill="#000">7.51 x 3.62</text>
<text x="1537.7" y="485.5" font-size="18.8" text-anchor="start" font-weight="bold" fill="#000">Bedroom 3</text>
<text x="1543.4" y="506.1" font-size="18.8" text-anchor="start" fill="#000">11&#39;4 x 10&#39;5</text>
<text x="1541.1" y="527" font-size="18.7" text-anchor="start" fill="#000">3.46 x 3.17</text>
<text x="1079.7" y="705.4" font-size="19" text-anchor="start" font-weight="bold" fill="#000">Bedroom 2</text>
<text x="1080.5" y="726.2" font-size="18.4" text-anchor="start" fill="#000">14&#39;11 x 10&#39;1</text>
<text x="1083.1" y="747" font-size="18.7" text-anchor="start" fill="#000">4.55 x 3.07</text>
<text x="1241.4" y="740.1" font-size="18.9" text-anchor="start" font-weight="bold" fill="#000">Bedroom 4</text>
<text x="1252.4" y="760.9" font-size="18.9" text-anchor="start" fill="#000">11&#39;7 x 8&#39;0</text>
<text x="1245.5" y="781.7" font-size="18.4" text-anchor="start" fill="#000">3.53 x 2.44</text>
<text x="1423.6" y="737.2" font-size="18.3" text-anchor="start" font-weight="bold" fill="#000">Bedroom 1</text>
<text x="1386.2" y="757.5" font-size="18.8" text-anchor="start" fill="#000">16&#39;2 max x 14&#39;1 max</text>
<text x="1425.2" y="777.8" font-size="18.9" text-anchor="start" fill="#000">4.92 x 4.29</text>
<text x="635.6" y="566.6" font-size="16.6" text-anchor="middle" font-weight="bold" fill="#000">Up</text>
<text x="16.9" y="923.9" font-size="20.8" text-anchor="start" font-weight="bold" fill="#000">GROUND FLOOR</text>
<text x="1226.6" y="543.8" font-size="16.6" text-anchor="start" font-weight="bold" fill="#000">Down</text>
<text x="1036.1" y="905.6" font-size="20.8" text-anchor="start" font-weight="bold" fill="#000">FIRST FLOOR</text>
<text x="58.8" y="1145.7" font-size="15" text-anchor="start" fill="#5e5e5e">Floor plan produced in accordance with RICS Property Measurement 2nd Edition,</text>
<text x="58.8" y="1163.6" font-size="15" text-anchor="start" fill="#5e5e5e">Incorporating International Property Measurement Standards (IPMS2 Residential).</text>
<text x="58.8" y="1181.3" font-size="15" text-anchor="start" fill="#5e5e5e">Produced for CJ Hole.</text>
<text x="219.7" y="1181.3" font-size="15" text-anchor="start" fill="#5e5e5e">REF:</text>
<text x="283.2" y="1181.3" font-size="15" text-anchor="start" fill="#5e5e5e">1290650</text>
<text x="616.4" y="1163.6" font-size="15" text-anchor="start" fill="#5e5e5e">©</text>
<text x="630.4" y="1163.6" font-size="15" fill="#5e5e5e" textLength="63.3" lengthAdjust="spacingAndGlyphs">nichecom</text>
<text x="697.8" y="1163.6" font-size="15" text-anchor="start" fill="#5e5e5e">2025.</text>
</svg>
</body></html>
